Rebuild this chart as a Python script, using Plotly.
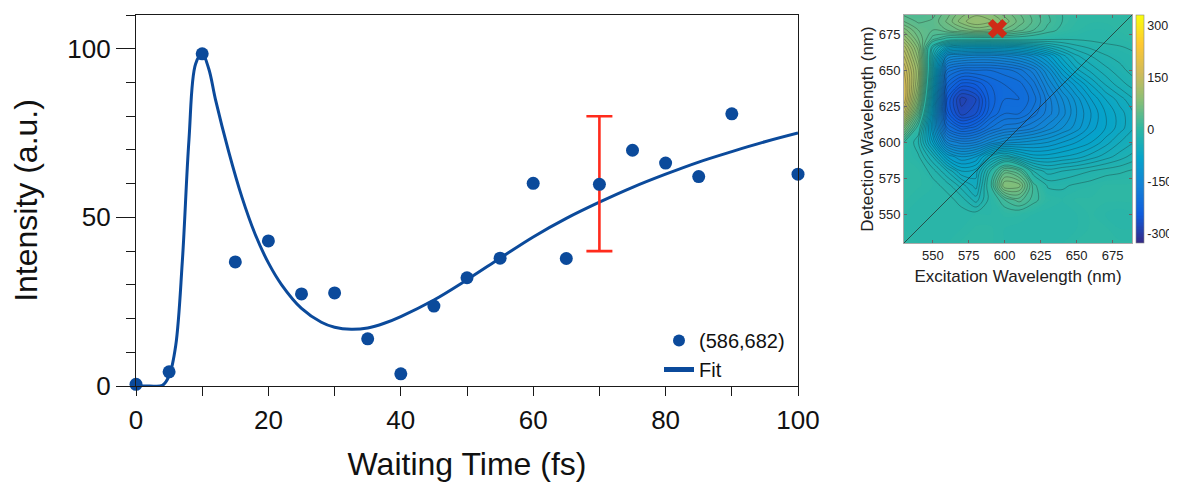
import plotly.graph_objects as go

# ---------------- main panel data ----------------
wait_t = [0, 5, 10, 15, 20, 25, 30, 35, 40, 45, 50, 55, 60, 65, 70, 75, 80, 85, 90, 100]
intensity = [0.5, 4.2, 98.5, 36.8, 43.0, 27.3, 27.6, 14.0, 3.6, 23.7, 32.1, 37.9, 60.1, 37.8,
             59.8, 69.9, 66.1, 62.1, 80.7, 62.8]

fit_t = [0, 2, 4, 5, 6, 7, 8, 9, 10, 11, 12, 14, 16, 18, 20, 22, 25, 28, 30, 32.5, 35, 37.5,
         40, 45, 50, 55, 60, 65, 70, 75, 80, 85, 90, 95, 100]
fit_v = [0, 0, 0.2, 3.0, 12, 37, 73, 95.5, 98.5, 94, 85, 69.5, 56, 45, 36.5, 30, 23, 18.9,
         17.4, 16.8, 17.2, 18.6, 20.6, 25.5, 31.5, 37.9, 44.2, 49.7, 54.5, 58.9, 62.8, 66.4,
         69.5, 72.4, 75]

err_t = [70]
err_center = [60]
err_half = [20]

series_name = "(586,682)"
fit_name = "Fit"

# ---------------- inset 2D spectrum data ----------------
exc_nm = [530, 540, 550, 560, 570, 580, 590, 600, 610, 620, 630, 640, 650, 660, 670, 680, 690]
det_nm = [530, 540, 550, 560, 570, 580, 590, 600, 610, 620, 630, 640, 650, 660,
          666, 672, 678, 684, 690]
# rows follow det_nm (bottom -> top), columns follow exc_nm
spec = [
    [0, -5, -5, -5, 0, 0, 0, -5, -5, -8, -8, -5, 0, 0, 0, 0, 0],                              # 530
    [-5, -8, -8, -8, -5, 0, 0, -5, -8, -8, -8, -8, -5, 0, 0, -5, -5],                          # 540
    [-5, -8, -8, -8, -5, -5, -5, 0, 0, -5, -8, -8, -5, 0, -5, -8, -5],                         # 550
    [0, -5, -5, -5, -15, -35, -5, 20, 35, 15, 0, -5, 0, 0, 0, 0, 0],                           # 560
    [0, 0, -5, -15, -35, -55, 5, 80, 75, 15, -12, -12, -8, -5, 0, 0, 0],                       # 570
    [0, 0, -15, -40, -70, -65, -10, 45, 30, -20, -35, -30, -25, -20, -15, -12, -8],            # 580
    [0, -8, -40, -90, -110, -100, -60, -40, -60, -75, -75, -70, -65, -55, -45, -35, -25],      # 590
    [10, -20, -80, -150, -165, -160, -140, -125, -120, -115, -110, -100, -90, -80, -65, -50, -40],
    [70, 0, -100, -200, -225, -215, -190, -175, -170, -160, -145, -130, -115, -95, -80, -65, -50],
    [140, 40, -90, -235, -275, -260, -220, -200, -200, -185, -165, -145, -120, -100, -80, -65, -50],
    [170, 75, -75, -240, -285, -270, -225, -210, -210, -195, -165, -140, -115, -90, -70, -55, -40],
    [170, 95, -60, -215, -245, -240, -220, -210, -205, -185, -150, -120, -95, -70, -50, -35, -25],
    [160, 100, -45, -185, -200, -200, -200, -195, -185, -165, -130, -92, -63, -47, -34, -24, -15],
    [140, 85, -35, -130, -140, -145, -145, -140, -132, -118, -95, -65, -42, -30, -21, -16, -12],
    [125, 75, -20, -70, -80, -82, -82, -80, -75, -65, -50, -35, -24, -18, -14, -11, -8],          # 666
    [100, 60, 25, 5, 0, 0, 0, 0, 0, -3, -6, -8, -8, -7, -5, -5, 0],                               # 672
    [75, 50, 40, 50, 62, 72, 68, 58, 44, 30, 16, 6, 0, -5, -5, 0, 0],                             # 678
    [50, 38, 42, 62, 85, 100, 92, 76, 56, 38, 22, 10, 3, 0, 0, 0, 0],                             # 684
    [35, 30, 36, 55, 75, 85, 80, 65, 50, 35, 20, 10, 5, 0, 0, 0, 0],                              # 690
]
diag_nm = [530, 688.5]
mark_exc = [595]
mark_det = [679]
cbar_ticks = [-300, -150, 0, 150, 300]
cbar_labels = ["-300", "-150", "0", "150", "300"]
inset_ticks = [550, 575, 600, 625, 650, 675]

parula = [
    [0.0, "#352a87"], [0.125, "#0f5cdd"], [0.25, "#1481d6"], [0.375, "#06a4ca"],
    [0.5, "#2eb7a4"], [0.625, "#87bf77"], [0.75, "#d1bb59"], [0.875, "#fec832"],
    [1.0, "#f9fb0e"],
]

# page body has an 8 px margin: figure is drawn 8 px inside the window
OFF = 8
W, H = 1177 - OFF, 483 - OFF


def fx(px):
    return (px - OFF) / W


def fy(py):
    return 1 - (py - OFF) / H


FONT = "Liberation Sans, Arial, Helvetica, sans-serif"
BLUE = "#0b4a9b"

fig = go.Figure()

# fit line
fig.add_trace(go.Scatter(
    x=fit_t, y=fit_v, mode="lines", name=fit_name, legendrank=2,
    line=dict(color=BLUE, width=3, shape="spline", smoothing=1.0),
    xaxis="x", yaxis="y",
))
# error bar
fig.add_trace(go.Scatter(
    x=err_t, y=err_center, mode="markers", showlegend=False,
    marker=dict(size=1, color="rgba(0,0,0,0)"),
    error_y=dict(type="data", array=err_half, color="#ff2b1c", thickness=2.6, width=13),
    xaxis="x", yaxis="y", hoverinfo="skip",
))
# data points
fig.add_trace(go.Scatter(
    x=wait_t, y=intensity, mode="markers", name=series_name, legendrank=1,
    marker=dict(color=BLUE, size=13), cliponaxis=False,
    xaxis="x", yaxis="y",
))

# inset: filled contour map
fig.add_trace(go.Contour(
    x=exc_nm, y=det_nm, z=spec, colorscale=parula, zmin=-326, zmax=330,
    autocontour=False, contours=dict(coloring="fill", start=-325, end=330, size=4),
    line=dict(width=0, smoothing=1.0), xaxis="x2", yaxis="y2", showlegend=False,
    hoverinfo="skip",
    colorbar=dict(
        x=fx(1136), xanchor="left", xpad=0, ypad=0, thickness=8,
        len=228, lenmode="pixels", y=fy(129), yanchor="middle",
        tickmode="array", tickvals=cbar_ticks, ticktext=cbar_labels, ticks="", ticklen=2,
        tickfont=dict(size=12.5, family=FONT, color="#222"),
        outlinewidth=0.6, outlinecolor="#888",
    ),
))
for start, end in [(-320, -10), (10, 320)]:
    fig.add_trace(go.Contour(
        x=exc_nm, y=det_nm, z=spec, showscale=False, showlegend=False,
        autocontour=False, contours=dict(coloring="none", start=start, end=end, size=10),
        line=dict(color="rgba(20,20,20,0.55)", width=0.55, smoothing=1.0),
        xaxis="x2", yaxis="y2", hoverinfo="skip",
    ))
fig.add_trace(go.Scatter(
    x=diag_nm, y=diag_nm, mode="lines", showlegend=False,
    line=dict(color="#222", width=0.7), xaxis="x2", yaxis="y2",
))
fig.add_trace(go.Scatter(
    x=mark_exc, y=mark_det, mode="markers", showlegend=False,
    marker=dict(symbol="x", size=17, color="#cf2b17", line=dict(width=0)),
    xaxis="x2", yaxis="y2",
))

axis_common = dict(showgrid=False, zeroline=False, showline=True, linecolor="#1a1a1a",
                   linewidth=1.3, mirror=True, tickcolor="#1a1a1a", tickwidth=1.3,
                   automargin=False)

fig.update_layout(
    width=W, height=H,
    margin=dict(l=0, r=0, t=0, b=0),
    paper_bgcolor="white", plot_bgcolor="white",
    font=dict(family=FONT, color="#111"),
    xaxis=dict(
        domain=[fx(136), fx(798)], range=[0, 100], anchor="y",
        tickmode="linear", tick0=0, dtick=20, ticks="outside", ticklen=9,
        minor=dict(dtick=10, ticklen=9, ticks="outside", tickcolor="#1a1a1a", tickwidth=1.3),
        tickfont=dict(size=26), ticklabelstandoff=2,
        title=dict(text="Waiting Time (fs)", font=dict(size=32), standoff=18),
        **axis_common,
    ),
    yaxis=dict(
        domain=[fy(386), fy(15)], range=[0, 110], anchor="x",
        tickmode="linear", tick0=0, dtick=50, ticks="outside", ticklen=19,
        minor=dict(dtick=10, ticklen=9, ticks="outside", tickcolor="#1a1a1a", tickwidth=1.3),
        tickfont=dict(size=26), ticklabelstandoff=0,
        title=dict(text="Intensity (a.u.)", font=dict(size=32), standoff=25),
        **axis_common,
    ),
    xaxis2=dict(
        domain=[fx(904), fx(1132)], range=[530, 688.5], anchor="y2",
        tickvals=inset_ticks, ticks="inside", ticklen=3, showgrid=False, zeroline=False,
        showline=True, linecolor="#aaa", linewidth=1, mirror="ticks", tickcolor="#666",
        tickfont=dict(size=13, color="#222"),
        title=dict(text="Excitation Wavelength (nm)", font=dict(size=17, color="#222"), standoff=8),
        automargin=False,
    ),
    yaxis2=dict(
        domain=[fy(243), fy(15)], range=[530, 688.5], anchor="x2",
        tickvals=inset_ticks, ticks="inside", ticklen=3, showgrid=False, zeroline=False,
        showline=True, linecolor="#aaa", linewidth=1, mirror="ticks", tickcolor="#666",
        tickfont=dict(size=13, color="#222"),
        title=dict(text="Detection Wavelength (nm)", font=dict(size=17, color="#222"), standoff=0),
        automargin=False,
    ),
    legend=dict(
        x=fx(659), xanchor="left", y=fy(321), yanchor="top",
        font=dict(size=20, color="#111"), bgcolor="rgba(0,0,0,0)", borderwidth=0,
        tracegroupgap=0, itemsizing="constant",
    ),
    showlegend=True,
)

fig.write_html("out.html")
